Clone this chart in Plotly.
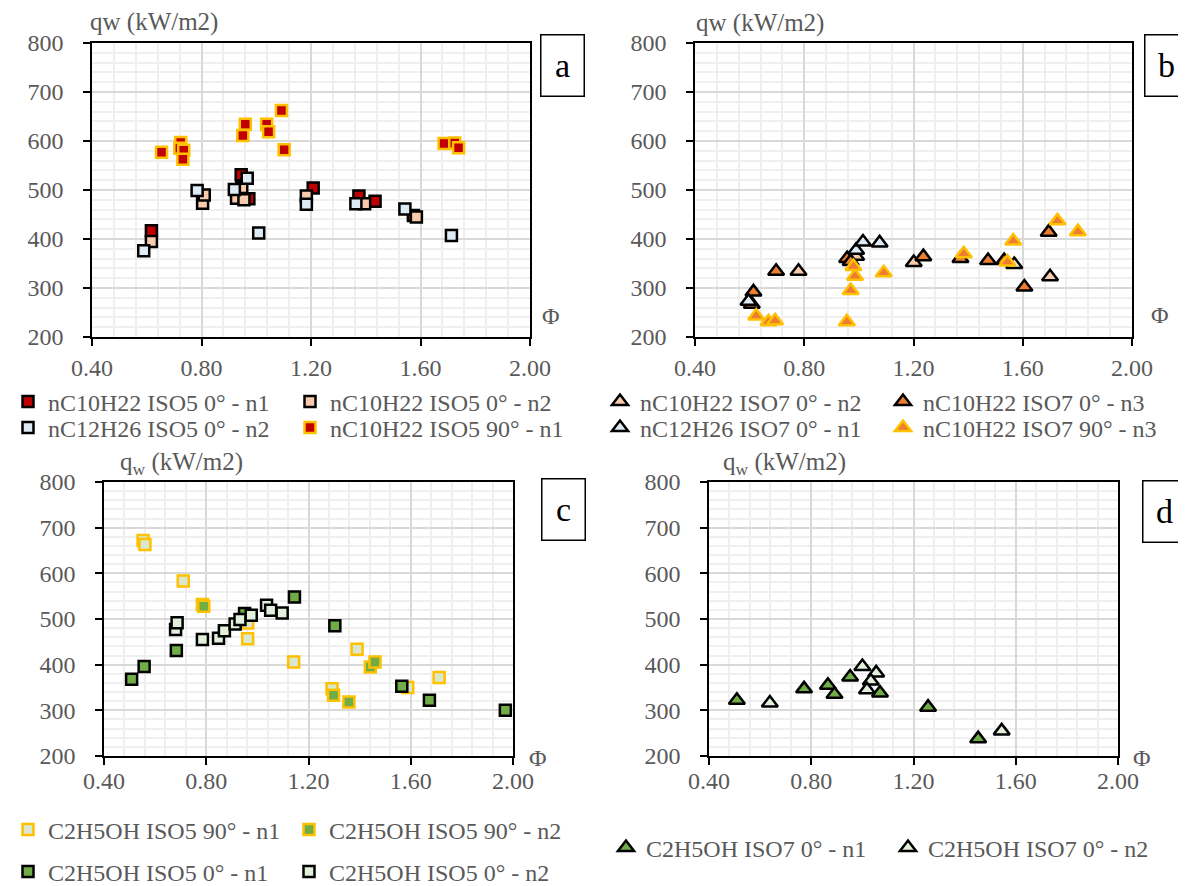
import plotly.graph_objects as go

W, H = 1186, 886
PAD = 8  # page body margin of the browser

# ---- panel a : ISO5 squares ----
a_c10_n1_x = [0.617, 0.945, 0.973, 1.208, 1.375, 1.434, 1.574]
a_c10_n1_y = [417, 531, 482, 504, 488, 477, 448]
a_c10_n2_x = [0.617, 0.804, 0.810, 0.928, 0.947, 0.955, 1.183, 1.396, 1.585]
a_c10_n2_y = [395, 473, 490, 483, 505, 480, 488, 472, 445]
a_c12_n2_x = [0.589, 0.784, 0.920, 0.967, 1.009, 1.183, 1.364, 1.543, 1.713]
a_c12_n2_y = [376, 499, 501, 524, 412, 471, 472, 461, 407]
a_c10_90_x = [0.654, 0.724, 0.721, 0.735, 0.732, 0.960, 0.951, 1.038, 1.045, 1.092, 1.102, 1.686, 1.725, 1.739]
a_c10_90_y = [577, 597, 585, 581, 563, 634, 611, 634, 619, 662, 582, 595, 596, 586]

# ---- panel b : ISO7 triangles ----
b_c10_n2_x = [0.779, 0.990, 1.201, 1.700]
b_c10_n2_y = [334, 365, 352, 323]
b_c10_n3_x = [0.608, 0.614, 0.697, 0.957, 0.970, 1.236, 1.372, 1.473, 1.532, 1.606, 1.695]
b_c10_n3_y = [267, 292, 334, 360, 354, 364, 360, 356, 356, 302, 414]
b_c12_n1_x = [0.596, 0.990, 1.015, 1.076, 1.569]
b_c12_n1_y = [273, 377, 394, 392, 348]
b_c10_90_x = [0.624, 0.669, 0.693, 0.956, 0.970, 0.986, 0.980, 1.091, 1.384, 1.544, 1.565, 1.727, 1.802]
b_c10_90_y = [243, 231, 233, 231, 295, 324, 344, 331, 370, 353, 396, 437, 415]

# ---- panel c : ethanol ISO5 squares ----
c_90_n1_x = [0.553, 0.560, 0.710, 0.962, 0.962, 1.142, 1.292, 1.390, 1.588, 1.711]
c_90_n1_y = [672, 663, 583, 491, 457, 406, 347, 434, 350, 372]
c_90_n2_x = [0.785, 0.790, 0.950, 1.298, 1.358, 1.442, 1.460]
c_90_n2_y = [532, 528, 509, 333, 318, 395, 406]
c_0_n1_x = [0.508, 0.557, 0.683, 0.950, 1.145, 1.303, 1.565, 1.673, 1.970]
c_0_n1_y = [368, 396, 431, 512, 548, 485, 353, 322, 300]
c_0_n2_x = [0.680, 0.686, 0.785, 0.848, 0.871, 0.913, 0.932, 0.976, 1.036, 1.052, 1.097]
c_0_n2_y = [477, 492, 455, 458, 474, 489, 499, 508, 530, 519, 513]

# ---- panel d : ethanol ISO7 triangles ----
d_n1_x = [0.509, 0.772, 0.865, 0.891, 0.952, 1.069, 1.257, 1.453]
d_n1_y = [322, 347, 355, 335, 373, 338, 307, 238]
d_n2_x = [0.638, 1.000, 1.054, 1.033, 1.018, 1.545]
d_n2_y = [316, 396, 382, 364, 345, 255]

FONT = "Liberation Serif"
GREY = "#595959"
FS = 24


def fx(px):
    return (px - PAD) / W


def fy(py):
    return 1 - (py - PAD) / H


fig = go.Figure()


def add(x, y, name, fill, edge, symbol, xa, ya, legend, size):
    fig.add_trace(go.Scatter(
        x=x, y=y, name=name, mode="markers", xaxis=xa, yaxis=ya, legend=legend,
        marker=dict(symbol=symbol, size=size, color=fill, line=dict(color=edge, width=2.5)),
    ))


sq, tri = "square", "triangle-up"
SQ, TR = 11, 14
add(a_c10_n1_x, a_c10_n1_y, "nC10H22 ISO5 0° - n1", "#C00000", "black", sq, "x", "y", "legend", SQ)
add(a_c10_n2_x, a_c10_n2_y, "nC10H22 ISO5 0° - n2", "#F8CBAD", "black", sq, "x", "y", "legend", SQ)
add(a_c12_n2_x, a_c12_n2_y, "nC12H26 ISO5 0° - n2", "#DDEBF7", "black", sq, "x", "y", "legend2", SQ)
add(a_c10_90_x, a_c10_90_y, "nC10H22 ISO5 90° - n1", "#C00000", "#FFC000", sq, "x", "y", "legend2", SQ)

add(b_c10_n2_x, b_c10_n2_y, "nC10H22 ISO7 0° - n2", "#F8CBAD", "black", tri, "x2", "y2", "legend3", TR)
add(b_c10_n3_x, b_c10_n3_y, "nC10H22 ISO7 0° - n3", "#ED7D31", "black", tri, "x2", "y2", "legend3", TR)
add(b_c12_n1_x, b_c12_n1_y, "nC12H26 ISO7 0° - n1", "#DDEBF7", "black", tri, "x2", "y2", "legend4", TR)
add(b_c10_90_x, b_c10_90_y, "nC10H22 ISO7 90° - n3", "#ED7D31", "#FFC000", tri, "x2", "y2", "legend4", TR)

add(c_90_n1_x, c_90_n1_y, "C2H5OH ISO5 90° - n1", "#D9E8CF", "#FFC000", sq, "x3", "y3", "legend5", SQ)
add(c_90_n2_x, c_90_n2_y, "C2H5OH ISO5 90° - n2", "#70AD47", "#FFC000", sq, "x3", "y3", "legend5", SQ)
add(c_0_n1_x, c_0_n1_y, "C2H5OH ISO5 0° - n1", "#70AD47", "black", sq, "x3", "y3", "legend6", SQ)
add(c_0_n2_x, c_0_n2_y, "C2H5OH ISO5 0° - n2", "#E2EFDA", "black", sq, "x3", "y3", "legend6", SQ)

add(d_n1_x, d_n1_y, "C2H5OH ISO7 0° - n1", "#70AD47", "black", tri, "x4", "y4", "legend7", TR)
add(d_n2_x, d_n2_y, "C2H5OH ISO7 0° - n2", "#E2EFDA", "black", tri, "x4", "y4", "legend7", TR)

# plot areas in screen pixels: left, right, top, bottom, x-label standoff
boxes = {
    "": (92, 530, 43, 337, 1),
    "2": (695, 1132, 43, 337, 1),
    "3": (104, 513, 482, 756, -5),
    "4": (709, 1118, 482, 756, -5),
}

lay = {}
for k, (l, r, t, b, xs) in boxes.items():
    lay["xaxis" + k] = dict(
        domain=[fx(l), fx(r)], range=[0.4, 2.0], dtick=0.4, tick0=0.4, tickformat=".2f",
        showline=True, linecolor="black", linewidth=1.5, mirror=True,
        ticks="outside", ticklen=7, tickwidth=1.5, tickcolor="black",
        showgrid=True, gridcolor="#D9D9D9", gridwidth=1.5, zeroline=False,
        minor=dict(dtick=0.08, showgrid=True, gridcolor="#EFEFEF", gridwidth=1.5),
        tickfont=dict(family=FONT, size=FS, color=GREY), anchor="y" + k,
        automargin=False, ticklabelstandoff=xs,
    )
    lay["yaxis" + k] = dict(
        domain=[fy(b), fy(t)], range=[200, 800], dtick=100,
        showline=True, linecolor="black", linewidth=1.5, mirror=True,
        ticks="outside", ticklen=7, tickwidth=1.5, tickcolor="black",
        showgrid=True, gridcolor="#D9D9D9", gridwidth=1.5, zeroline=False,
        minor=dict(dtick=20, showgrid=True, gridcolor="#EFEFEF", gridwidth=1.5),
        tickfont=dict(family=FONT, size=FS, color=GREY), anchor="x" + k,
        automargin=False, ticklabelstandoff=15,
    )

# legends: (name, marker-centre x px, row y px, column spacing px)
legs = [
    ("legend", 18, 402, 284),
    ("legend2", 18, 428, 284),
    ("legend3", 620, 402, 285),
    ("legend4", 620, 428, 285),
    ("legend5", 20, 830, 283),
    ("legend6", 20, 872, 283),
    ("legend7", 626, 848, 284),
]
for name, xc, yc, ew in legs:
    lay[name] = dict(
        orientation="h", xref="container", yref="container",
        x=fx(xc - 20), xanchor="left", y=fy(yc), yanchor="middle",
        entrywidth=ew - 47, entrywidthmode="pixels", bgcolor="rgba(0,0,0,0)",
        font=dict(family=FONT, size=FS, color=GREY), itemsizing="trace",
    )

ann = []
# axis titles
for x0, y0, txt in [(88, 22, "qw (kW/m2)"), (694, 23, "qw (kW/m2)"),
                    (118, 463, "q<sub>w</sub> (kW/m2)"), (721, 463, "q<sub>w</sub> (kW/m2)")]:
    ann.append(dict(x=fx(x0), y=fy(y0), xref="paper", yref="paper", text=txt, showarrow=False,
                    xanchor="left", yanchor="middle", font=dict(family=FONT, size=25, color=GREY)))
# phi labels
for x0, y0 in [(551, 316), (1160, 315), (538, 758), (1142, 758)]:
    ann.append(dict(x=fx(x0), y=fy(y0), xref="paper", yref="paper", text="Φ", showarrow=False,
                    xanchor="center", yanchor="middle", font=dict(family=FONT, size=FS, color=GREY)))
# panel letters
for x0, y0, txt in [(562, 65, "a"), (1166, 65, "b"), (563, 509, "c"), (1164, 511, "d")]:
    ann.append(dict(x=fx(x0), y=fy(y0), xref="paper", yref="paper", text=txt, showarrow=False,
                    xanchor="center", yanchor="middle", width=42, height=60, borderpad=0,
                    bordercolor="black", borderwidth=1.5, bgcolor="white",
                    font=dict(family=FONT, size=34, color="black")))

fig.update_layout(
    width=W, height=H, margin=dict(l=0, r=0, t=0, b=0, autoexpand=False),
    paper_bgcolor="white", plot_bgcolor="white", annotations=ann, **lay,
)

fig.write_html("out.html")
